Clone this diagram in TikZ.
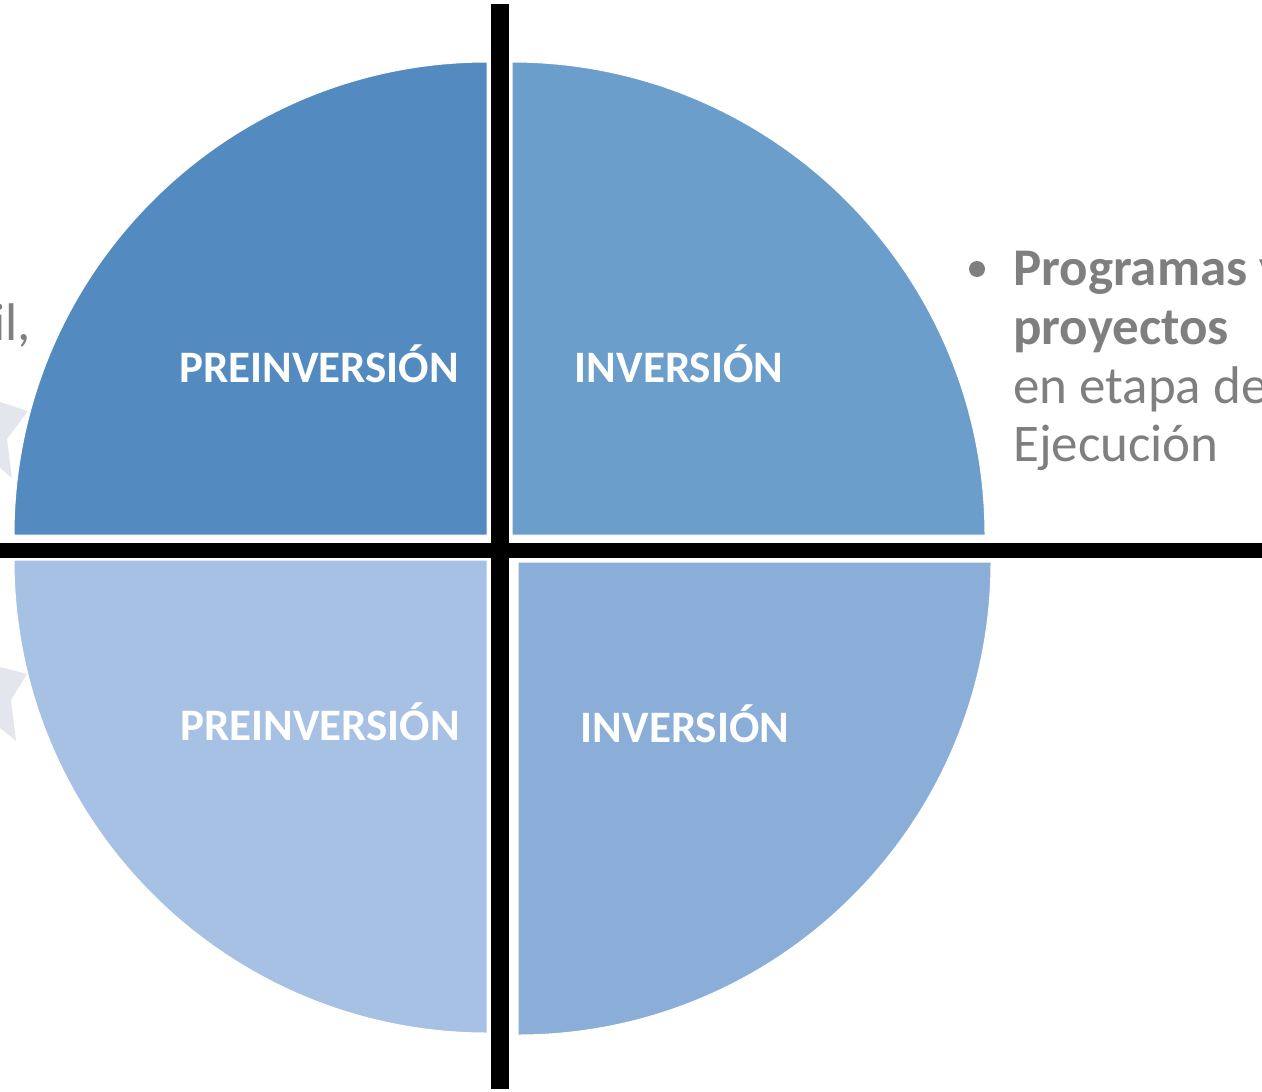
\documentclass[tikz,border=0pt]{standalone}
\usepackage{fontspec}
\setmainfont{Carlito}
\definecolor{qtl}{RGB}{83,139,193}
\definecolor{qtr}{RGB}{108,158,204}
\definecolor{qbl}{RGB}{166,193,228}
\definecolor{qbr}{RGB}{138,174,215}
\definecolor{txtgray}{RGB}{127,127,127}
\definecolor{starcol}{RGB}{228,230,238}
\begin{document}
\begin{tikzpicture}[x=1pt,y=1pt,
  quad/.style={draw=white,line width=1pt},
  lbl/.style={text=white,font=\fontsize{45}{54}\selectfont\bfseries,inner sep=0pt,anchor=base},
  side/.style={text=txtgray,font=\fontsize{53}{59}\selectfont,inner sep=0pt,anchor=base west},
  sideb/.style={side,font=\fontsize{53}{59}\selectfont\bfseries},
  bar/.style={fill=black}]
\useasboundingbox (0,0) rectangle (1262,-1092);
\clip (0,0) rectangle (1262,-1092);
% background stars (partially visible)
\fill[starcol] (0,-402) -- (28,-411) -- (7,-439) -- (12,-478) -- (0,-468) -- cycle;
\fill[starcol] (0,-667) -- (27,-674) -- (11,-700) -- (16,-741) -- (0,-728) -- cycle;
% left cut text
\node[side,anchor=base east] (leftcut) at (31,-340) {il,};
% quadrants
\fill[qtl,quad] (487,-535) -- (487,-62) arc[start angle=90,end angle=180,radius=473] -- cycle;
\fill[qtr,quad] (512,-535) -- (512,-62) arc[start angle=90,end angle=0,radius=473] -- cycle;
\fill[qbl,quad] (487,-560) -- (14,-560) arc[start angle=180,end angle=270,radius=473] -- cycle;
\fill[qbr,quad] (518,-562) -- (991,-562) arc[start angle=0,end angle=-90,radius=473] -- cycle;
% cross bars
\fill[bar] (491,-4) rectangle (509,-1089);
\fill[bar] (0,-543) rectangle (1262,-558);
% labels
\node[lbl] (pre1) at (319,-382) {PREINVERSIÓN};
\node[lbl] (inv1) at (679,-382) {INVERSIÓN};
\node[lbl] (pre2) at (320,-740) {PREINVERSIÓN};
\node[lbl] (inv2) at (685,-742) {INVERSIÓN};
% right text
\node[circle,fill=txtgray,minimum size=16pt,inner sep=0pt] (bullet) at (977,-269) {};
\node[sideb] (l1) at (1013,-285) {Programas y};
\node[sideb] (l2) at (1013,-344) {proyectos};
\node[side] (l3) at (1013,-403) {en etapa de};
\node[side] (l4) at (1013,-461) {Ejecución};
\end{tikzpicture}
\end{document}
